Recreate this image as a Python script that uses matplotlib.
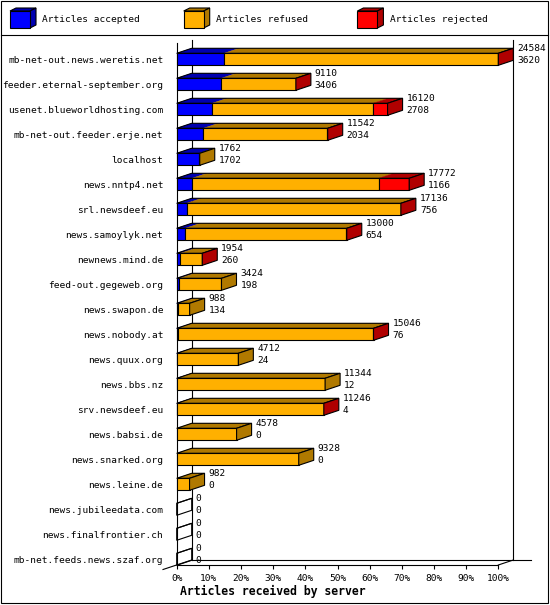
import numpy as np
import matplotlib.pyplot as plt
from matplotlib.patches import Polygon, Rectangle

# innfeed-style stats: articles offered per server, split into accepted / refused / rejected
servers = ['mb-net-out.news.weretis.net', 'feeder.eternal-september.org',
           'usenet.blueworldhosting.com', 'mb-net-out.feeder.erje.net', 'localhost',
           'news.nntp4.net', 'srl.newsdeef.eu', 'news.samoylyk.net', 'newnews.mind.de',
           'feed-out.gegeweb.org', 'news.swapon.de', 'news.nobody.at', 'news.quux.org',
           'news.bbs.nz', 'srv.newsdeef.eu', 'news.babsi.de', 'news.snarked.org',
           'news.leine.de', 'news.jubileedata.com', 'news.finalfrontier.ch',
           'mb-net.feeds.news.szaf.org']
offered = np.array([24584, 9110, 16120, 11542, 1762, 17772, 17136, 13000, 1954, 3424,
                    988, 15046, 4712, 11344, 11246, 4578, 9328, 982, 0, 0, 0])
accepted = np.array([3620, 3406, 2708, 2034, 1702, 1166, 756, 654, 260, 198,
                     134, 76, 24, 12, 4, 0, 0, 0, 0, 0, 0])
# rejected counts (tiny ones only show as a dark red end)
rejected = np.array([30, 20, 1100, 25, 0, 2340, 20, 30, 10, 0,
                     0, 20, 0, 0, 15, 0, 0, 0, 0, 0, 0])
refused = offered - accepted - rejected

legend_labels = ['Articles accepted', 'Articles refused', 'Articles rejected']
face_cols = ['#0000FF', '#FFB000', '#FF0000']
dark_cols = ['#0000B0', '#B07900', '#B00000']
xlabel = 'Articles received by server'
mono = 'DejaVu Sans Mono'
fs = 6.8

W, H = 550, 605
fig = plt.figure(figsize=(W / 100, H / 100), dpi=100)

# background layer in pixel coords: border + legend
bg = fig.add_axes([0, 0, 1, 1])
bg.set_xlim(0, W)
bg.set_ylim(H, 0)
bg.axis('off')
bg.add_patch(Rectangle((1, 1), W - 3.5, H - 3, fill=False, ec='black', lw=0.8))
bg.plot([1, W - 2.5], [35, 35], c='black', lw=0.8)
for k, lab in enumerate(legend_labels):
    lx = 10 + k * 173.7
    bg.add_patch(Polygon([(lx, 11), (lx + 20, 11), (lx + 26, 8), (lx + 6, 8)],
                         fc=dark_cols[k], ec='black', lw=0.8))
    bg.add_patch(Polygon([(lx + 20, 11), (lx + 26, 8), (lx + 26, 25), (lx + 20, 28)],
                         fc=dark_cols[k], ec='black', lw=0.8))
    bg.add_patch(Rectangle((lx, 11), 20, 17, fc=face_cols[k], ec='black', lw=0.8))
    bg.text(lx + 32.3, 20, lab, family=mono, fontsize=fs, va='center', ha='left')

# main plot: x = percent of largest server, y = row index
x0px, x1px = 176.7, 498.3
ytop_px, ybot_px = 43, 565
row0, rowh = 59.3, 25.0
ax = fig.add_axes([x0px / W, 1 - ybot_px / H, (x1px - x0px) / W, (ybot_px - ytop_px) / H])
ax.patch.set_alpha(0)
ylo = (ybot_px - row0) / rowh
yhi = (ytop_px - row0) / rowh
ax.set_xlim(0, 100)
ax.set_ylim(ylo, yhi)

pxx = (x1px - x0px) / 100.0
DX = 15 / pxx
DY = 5 / rowh
HH = 6 / rowh

pct = lambda v: v / offered.max() * 100.0

# back walls and floor
yback_top = (40 - row0) / rowh
ax.plot([DX, DX], [yback_top, ylo - DY], c='black', lw=0.8, clip_on=False, zorder=1)
ax.plot([100 + DX, 100 + DX], [yback_top, ylo - DY], c='black', lw=0.8, clip_on=False, zorder=1)
ax.plot([DX, 100 + DX + 18 / pxx], [ylo - DY, ylo - DY], c='black', lw=0.8, clip_on=False, zorder=1)
ax.plot([-13.7 / pxx, DX], [ylo + 4.5 / rowh, ylo - DY], c='black', lw=0.8, clip_on=False, zorder=1)
ax.plot([100, 100 + DX], [ylo, ylo - DY], c='black', lw=0.8, clip_on=False, zorder=1)

for i in range(len(servers)):
    segs = [accepted[i], refused[i], rejected[i]]
    yt, yb = i - HH, i + HH
    start = 0.0
    last = None
    parts = []
    for k, v in enumerate(segs):
        if v <= 0:
            continue
        a, b = start, start + pct(v)
        parts.append((a, b, k))
        start = b
        last = k
    end = start
    # top faces
    for a, b, k in parts:
        ax.add_patch(Polygon([(a, yt), (b, yt), (b + DX, yt - DY), (a + DX, yt - DY)],
                             fc=dark_cols[k], ec=dark_cols[k], lw=0.3, clip_on=False, zorder=3))
    ax.add_patch(Polygon([(0, yt), (end, yt), (end + DX, yt - DY), (DX, yt - DY)],
                         fill=False, ec='black', lw=0.8, clip_on=False, zorder=4))
    # front faces
    for a, b, k in parts:
        ax.add_patch(Rectangle((a, yt), b - a, 2 * HH, fc=face_cols[k], ec='black',
                               lw=0.8, clip_on=False, zorder=5))
    # end face
    side_fc = dark_cols[last] if last is not None else 'none'
    ax.add_patch(Polygon([(end, yt), (end + DX, yt - DY), (end + DX, yb - DY), (end, yb)],
                         fc=side_fc, ec='black', lw=0.8, clip_on=False, zorder=5))
    tx = end + DX + 4 / pxx
    ax.text(tx, i - 10.5 / rowh, str(offered[i]), family=mono, fontsize=fs,
            va='center', ha='left', zorder=6)
    ax.text(tx, i + 1 / rowh, str(accepted[i]), family=mono, fontsize=fs,
            va='center', ha='left', zorder=6)

ax.spines['top'].set_visible(False)
ax.spines['right'].set_visible(False)
for s in ['left', 'bottom']:
    ax.spines[s].set_linewidth(0.8)
ax.set_xticks(np.arange(0, 101, 10))
ax.set_xticklabels(['%d%%' % t for t in range(0, 101, 10)], family=mono, fontsize=fs)
ax.set_yticks(np.arange(len(servers)))
ax.set_yticklabels(servers, family=mono, fontsize=fs)
ax.tick_params(axis='x', direction='out', length=3.2, width=0.8, pad=3.6)
ax.tick_params(axis='y', length=0, pad=9.6)

fig.text(180 / W, 1 - 591.7 / H, xlabel, family=mono, fontweight='bold',
         fontsize=8.3, va='center', ha='left')

fig.savefig('out.png', dpi=100)
